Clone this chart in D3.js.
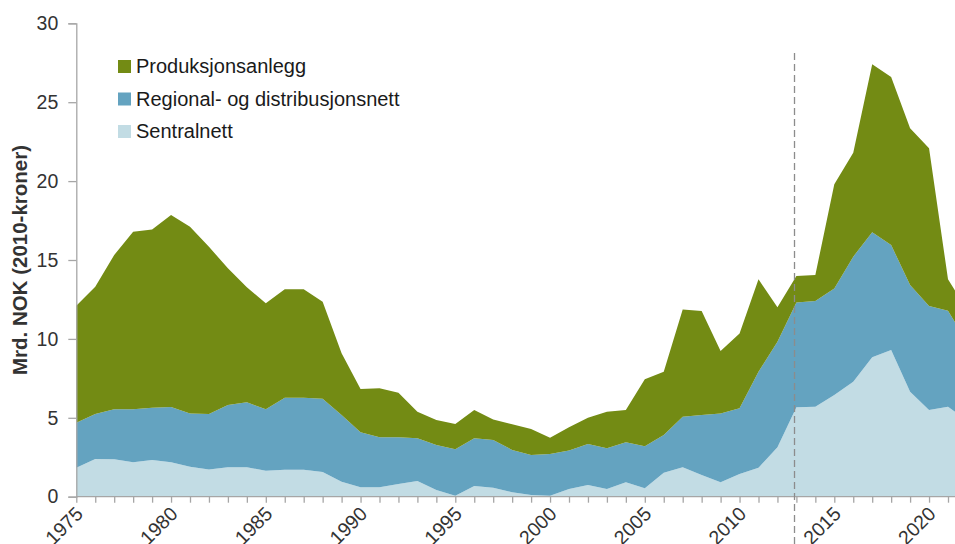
<!DOCTYPE html>
<html>
<head>
<meta charset="utf-8">
<script src="https://d3js.org/d3.v7.min.js"></script>
<style>
    body { margin: 0; background: #fff; }
    text { font-family: "Liberation Sans", Arial, sans-serif; }
</style>
</head>
<body>
<svg id="chart" width="955" height="544"></svg>
<script>
// years 1975 - 2022 (last year is cut off by the picture edge)
const years = d3.range(1975, 2023);

const sentralnett = [1.84, 2.39, 2.37, 2.18, 2.33, 2.18, 1.90, 1.73, 1.86, 1.86,
    1.65, 1.70, 1.70, 1.57, 0.95, 0.60, 0.60, 0.80, 1.00, 0.42,
    0.06, 0.68, 0.57, 0.28, 0.10, 0.06, 0.49, 0.74, 0.49, 0.91,
    0.53, 1.52, 1.86, 1.38, 0.91, 1.44, 1.84, 3.13, 5.67, 5.70,
    6.44, 7.29, 8.83, 9.30, 6.65, 5.49, 5.70, 4.84];

const regional = [2.85, 2.85, 3.17, 3.36, 3.31, 3.50, 3.38, 3.51, 3.95, 4.12,
    3.89, 4.57, 4.57, 4.64, 4.23, 3.48, 3.16, 2.96, 2.70, 2.86,
    2.94, 3.02, 3.02, 2.68, 2.54, 2.64, 2.43, 2.60, 2.58, 2.54,
    2.66, 2.39, 3.21, 3.80, 4.37, 4.16, 6.08, 6.69, 6.63, 6.70,
    6.76, 7.92, 7.93, 6.65, 6.77, 6.59, 6.09, 4.98];

const produksjon = [7.41, 8.06, 9.77, 11.25, 11.30, 12.17, 11.82, 10.60, 8.66, 7.29,
    6.72, 6.87, 6.87, 6.15, 3.91, 2.74, 3.11, 2.83, 1.69, 1.58,
    1.61, 1.79, 1.31, 1.63, 1.65, 1.04, 1.48, 1.66, 2.32, 2.04,
    4.26, 4.01, 6.80, 6.59, 3.95, 4.75, 5.86, 2.18, 1.69, 1.65,
    6.60, 6.59, 10.64, 10.65, 9.93, 10.00, 1.99, 2.02];

const seriesKeys = ["Sentralnett", "Regional- og distribusjonsnett", "Produksjonsanlegg"];
const seriesColors = ["#c2dce4", "#64a3c0", "#738b14"];
const legendOrder = ["Produksjonsanlegg", "Regional- og distribusjonsnett", "Sentralnett"];
const yTicks = [0, 5, 10, 15, 20, 25, 30];
const xLabelYears = [1975, 1980, 1985, 1990, 1995, 2000, 2005, 2010, 2015, 2020];
const splitYear = 2012.9;

const table = years.map((y, i) => ({
    year: y,
    "Sentralnett": sentralnett[i],
    "Regional- og distribusjonsnett": regional[i],
    "Produksjonsanlegg": produksjon[i]
}));

const svg = d3.select("#chart");
const x0 = 76.3, yBottom = 496.7, yTop = 23.3;

const x = d3.scaleLinear().domain([1975, 2022]).range([x0, x0 + 47 * 18.95]);
const y = d3.scaleLinear().domain([0, 30]).range([yBottom, yTop]);
const color = d3.scaleOrdinal().domain(seriesKeys).range(seriesColors);

const stacked = d3.stack().keys(seriesKeys)(table);

const area = d3.area()
    .x(d => x(d.data.year))
    .y0(d => y(d[0]))
    .y1(d => y(d[1]));

svg.append("g").selectAll("path")
    .data(stacked)
    .join("path")
    .attr("fill", d => color(d.key))
    .attr("d", area);

// y axis
const yAxis = svg.append("g")
    .attr("transform", "translate(" + x0 + ",0)")
    .call(d3.axisLeft(y).tickValues(yTicks).tickSize(8).tickPadding(10));
yAxis.select(".domain").attr("stroke", "#a6a6a6").attr("stroke-width", 1.3);
yAxis.selectAll(".tick line").attr("stroke", "#a6a6a6").attr("stroke-width", 1.3);
yAxis.selectAll(".tick text")
    .attr("font-size", 19.5)
    .attr("fill", "#333")
    .attr("font-family", "Liberation Sans, Arial, sans-serif");

// x axis
const xAxis = svg.append("g")
    .attr("transform", "translate(0," + yBottom + ")")
    .call(d3.axisBottom(x).tickValues(years).tickSize(6)
        .tickFormat(d => xLabelYears.includes(d) ? d : ""));
xAxis.select(".domain").attr("stroke", "#a6a6a6").attr("stroke-width", 1.3)
    .attr("d", "M" + x0 + ",0H" + 1000);
xAxis.selectAll(".tick line").attr("stroke", "#a6a6a6").attr("stroke-width", 1.3);
xAxis.selectAll(".tick text")
    .attr("font-size", 19.5)
    .attr("fill", "#333")
    .attr("font-family", "Liberation Sans, Arial, sans-serif")
    .attr("text-anchor", "end")
    .attr("dy", 0)
    .attr("transform", "translate(1,12) rotate(-45)");

// dashed split line
svg.append("line")
    .attr("x1", x(splitYear)).attr("x2", x(splitYear))
    .attr("y1", 53).attr("y2", 544)
    .attr("stroke", "#8c8c8c")
    .attr("stroke-width", 1.3)
    .attr("stroke-dasharray", "7,4");

// y label
svg.append("text")
    .attr("transform", "translate(27,260) rotate(-90)")
    .attr("text-anchor", "middle")
    .attr("font-size", 20.5)
    .attr("font-weight", "bold")
    .attr("fill", "#333")
    .text("Mrd. NOK (2010-kroner)");

// legend
const legend = svg.append("g").attr("transform", "translate(118,60)");
legend.selectAll("rect")
    .data(legendOrder)
    .join("rect")
    .attr("x", 0)
    .attr("y", (d, i) => i * 32.5)
    .attr("width", 13)
    .attr("height", 13)
    .attr("fill", d => color(d));
legend.selectAll("text")
    .data(legendOrder)
    .join("text")
    .attr("x", 18)
    .attr("y", (d, i) => i * 32.5 + 13)
    .attr("font-size", 20)
    .attr("fill", "#1a1a1a")
    .text(d => d);
</script>
</body>
</html>
